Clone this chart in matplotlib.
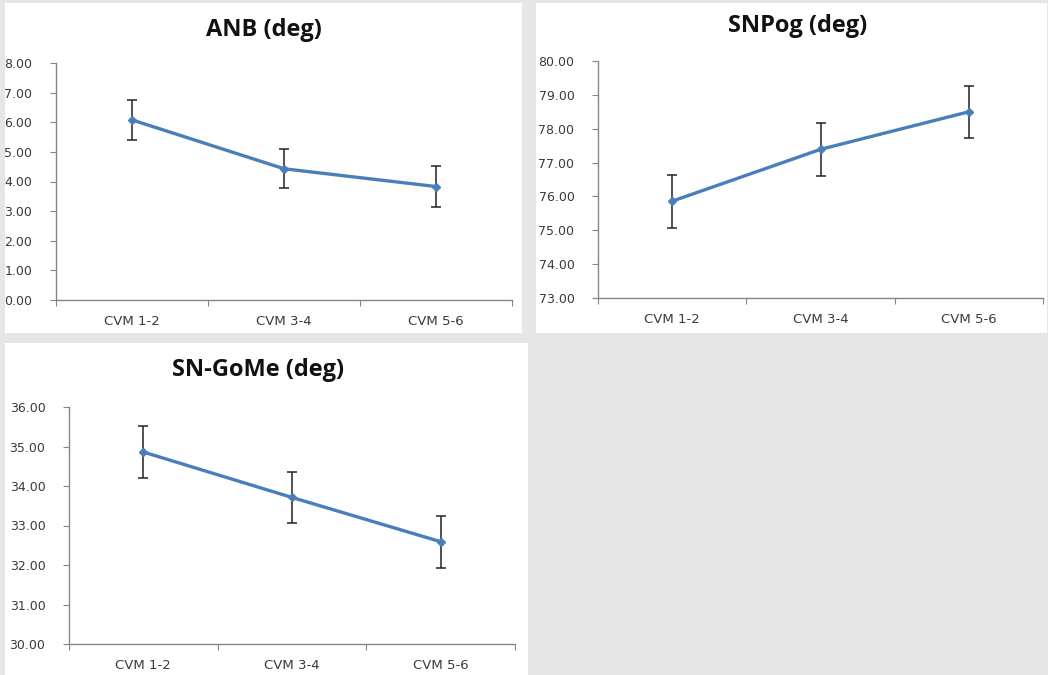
import numpy as np
import matplotlib
matplotlib.use('Agg')
import matplotlib.pyplot as plt
from matplotlib.patches import Rectangle

# ============================================================
# Data
# ============================================================
groups = ['CVM 1-2', 'CVM 3-4', 'CVM 5-6']

anb_mean = [6.08, 4.43, 3.83]
anb_err  = [0.68, 0.66, 0.69]

snpog_mean = [75.86, 77.39, 78.50]
snpog_err  = [0.78, 0.78, 0.77]

sngome_mean = [34.86, 33.71, 32.59]
sngome_err  = [0.66, 0.65, 0.66]

W, H = 1048, 675
BLUE = '#4a7ebb'
GREY = '#868686'

fig = plt.figure(figsize=(W / 100, H / 100), dpi=100)
fig.patch.set_facecolor('#e6e6e6')


def px_rect(x0, y0, x1, y1):
    # white chart panel, given in pixel coords from the top-left
    fig.patches.append(Rectangle((x0 / W, 1 - y1 / H), (x1 - x0) / W, (y1 - y0) / H,
                                 transform=fig.transFigure, facecolor='white',
                                 edgecolor='none', zorder=-10))


def px_axes(x0, y0, x1, y1):
    return fig.add_axes([x0 / W, 1 - y1 / H, (x1 - x0) / W, (y1 - y0) / H])


def chart(ax, mean, err, ylim, title, title_xy):
    x = np.arange(len(groups))
    ax.errorbar(x, mean, yerr=err, color=BLUE, lw=2.4, marker='D', ms=4.5,
                ecolor='#222222', elinewidth=1.1, capsize=3.5, capthick=1.1,
                zorder=3)
    ax.set_xlim(-0.5, len(groups) - 0.5)
    ax.set_ylim(*ylim)
    ax.set_yticks(np.arange(ylim[0], ylim[1] + 0.5, 1.0))
    ax.yaxis.set_major_formatter(matplotlib.ticker.FormatStrFormatter('%.2f'))
    ax.set_xticks(np.arange(-0.5, len(groups)), labels=[])
    ax.set_xticks(x, labels=groups, minor=True)
    ax.tick_params(axis='x', which='minor', length=0, pad=11)
    ax.tick_params(axis='x', which='major', length=4, color=GREY)
    ax.tick_params(axis='y', length=4, color=GREY, pad=13)
    for lab in ax.get_xticklabels(minor=True):
        lab.set_fontsize(9.5)
        lab.set_color('#3a3a3a')
        lab.set_family('DejaVu Sans')
    for lab in ax.get_yticklabels():
        lab.set_fontsize(9)
        lab.set_color('#3a3a3a')
        lab.set_family('DejaVu Sans')
    for s in ['top', 'right']:
        ax.spines[s].set_visible(False)
    for s in ['left', 'bottom']:
        ax.spines[s].set_color(GREY)
        ax.spines[s].set_linewidth(1.0)
    ax.patch.set_alpha(0)
    fig.text(title_xy[0] / W, 1 - title_xy[1] / H, title, ha='center', va='center',
             fontsize=17, fontweight='bold', family='Open Sans', color='#111111')


# panels
px_rect(5, 3, 522, 333)
px_rect(536, 3, 1047, 333)
px_rect(5, 343, 528, 675)

ax1 = px_axes(56, 63, 512, 300)
chart(ax1, anb_mean, anb_err, (0, 8), 'ANB (deg)', (264, 30))

ax2 = px_axes(598, 61, 1043, 298)
chart(ax2, snpog_mean, snpog_err, (73, 80), 'SNPog (deg)', (798, 26))

ax3 = px_axes(69, 407, 515, 644)
chart(ax3, sngome_mean, sngome_err, (30, 36), 'SN-GoMe (deg)', (258, 370))

fig.savefig('out.png', dpi=100, facecolor=fig.get_facecolor())
